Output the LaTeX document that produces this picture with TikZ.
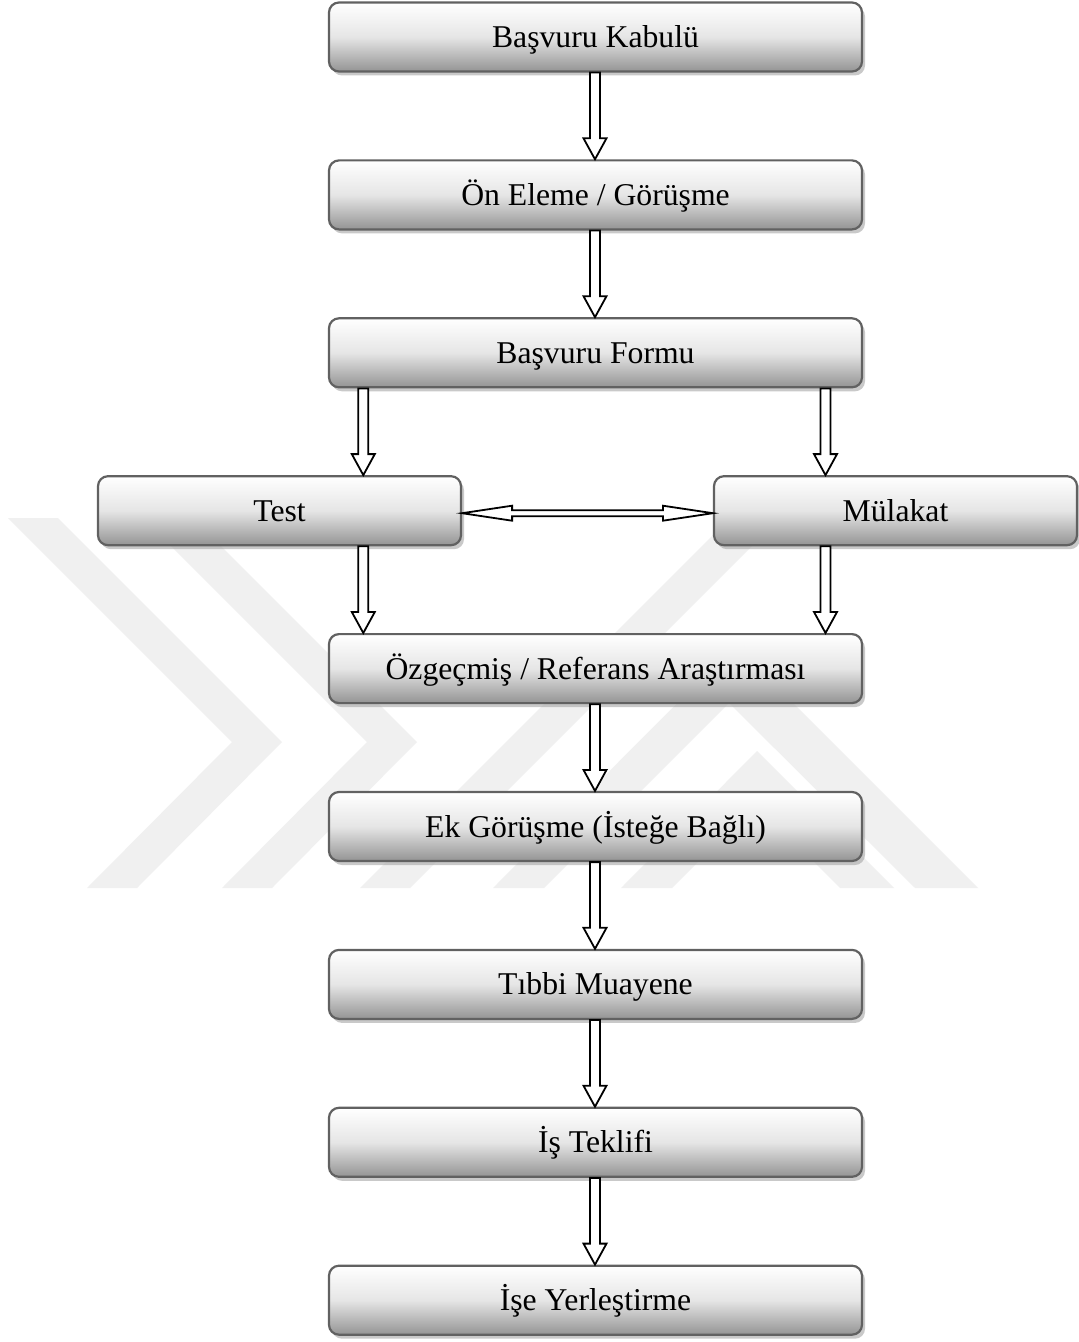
\documentclass[tikz,border=0pt]{standalone}
\usepackage{fontspec}
\setmainfont{Liberation Serif}
\usetikzlibrary{shadows,calc}

\tikzset{
  procbox/.style={draw=black!62, line width=2.2bp, rounded corners=10bp,
    top color=white, bottom color=black!42, middle color=black!10,
    minimum height=69bp, inner sep=0pt, text height=21bp, text depth=0pt,
    font=\fontsize{31.7bp}{38bp}\selectfont,
    drop shadow={shadow xshift=3bp, shadow yshift=-4bp, fill=black!35, opacity=0.6}},
  mainbox/.style={procbox, minimum width=533bp},
  sidebox/.style={procbox, minimum width=363bp},
  blockarrow/.style={draw=black, fill=white, line width=1.8bp, line join=miter},
  downarrow/.style={blockarrow, to path={
    let \p1=(\tikztostart), \p2=(\tikztotarget) in
    (\x1-5bp,\y1) -- (\x1-5bp,\y2+21bp) -- (\x1-11.5bp,\y2+21bp) -- (\x1,\y2)
    -- (\x1+11.5bp,\y2+21bp) -- (\x1+5bp,\y2+21bp) -- (\x1+5bp,\y1) -- cycle}},
  twoway/.style={blockarrow, to path={
    let \p1=(\tikztostart), \p2=(\tikztotarget) in
    (\x1,\y1) -- (\x1+50bp,\y1+7.5bp) -- (\x1+50bp,\y1+3bp) -- (\x2-50bp,\y1+3bp)
    -- (\x2-50bp,\y1+7.5bp) -- (\x2,\y1) -- (\x2-50bp,\y1-7.5bp) -- (\x2-50bp,\y1-3bp)
    -- (\x1+50bp,\y1-3bp) -- (\x1+50bp,\y1-7.5bp) -- cycle}},
  mark shape/.style={fill=black!6}
}

\begin{document}
\begin{tikzpicture}[x=1bp,y=1bp]
\useasboundingbox (0,0) rectangle (1078,-1342);
\fill[white] (0,0) rectangle (1078,-1342);

% faint emblem behind the chart
\fill[mark shape] (8,-518) -- (58,-518) -- (282,-742) -- (137,-888) -- (87,-888) -- (232,-742) -- cycle;
\fill[mark shape] (143,-518) -- (193,-518) -- (417,-742) -- (272,-888) -- (222,-888) -- (367,-742) -- cycle;
\fill[mark shape] (360,-888) -- (410,-888) -- (780,-518) -- (730,-518) -- cycle;
\fill[mark shape] (493,-888) -- (544,-888) -- (729,-703) -- (915,-888) -- (978,-888) -- (735,-645) -- cycle;
\fill[mark shape] (621,-888) -- (672,-888) -- (756,-804) -- (840,-888) -- (894,-888) -- (757,-751) -- cycle;

% process steps
\node[mainbox] (kabul)  at (595.5,-37)    {Başvuru Kabulü};
\node[mainbox] (eleme)  at (595.5,-194.9) {Ön Eleme / Görüşme};
\node[mainbox] (form)   at (595.5,-352.8) {Başvuru Formu};
\node[sidebox] (test)   at (279.5,-510.7) {Test};
\node[sidebox] (mulakat) at (895.5,-510.7) {Mülakat};
\node[mainbox] (ozgec)  at (595.5,-668.6) {Özgeçmiş / Referans Araştırması};
\node[mainbox] (ek)     at (595.5,-826.5) {Ek Görüşme (İsteğe Bağlı)};
\node[mainbox] (tibbi)  at (595.5,-984.4) {Tıbbi Muayene};
\node[mainbox] (teklif) at (595.5,-1142.3) {İş Teklifi};
\node[mainbox] (yerles) at (595.5,-1300.2) {İşe Yerleştirme};

% columns of the two side branches
\coordinate (lcol) at (363.3,0);
\coordinate (rcol) at (825.5,0);

% connectors
\path[downarrow] ([xshift=-0.5bp]kabul.south) to ([xshift=-0.5bp]eleme.north);
\path[downarrow] ([xshift=-0.5bp]eleme.south) to ([xshift=-0.5bp]form.north);
\path[downarrow] (form.south -| lcol) to (test.north -| lcol);
\path[downarrow] (form.south -| rcol) to (mulakat.north -| rcol);
\path[twoway] ([yshift=-2.5bp]test.east) to ([yshift=-2.5bp]mulakat.west);
\path[downarrow] (test.south -| lcol) to (ozgec.north -| lcol);
\path[downarrow] (mulakat.south -| rcol) to (ozgec.north -| rcol);
\path[downarrow] ([xshift=-0.5bp]ozgec.south) to ([xshift=-0.5bp]ek.north);
\path[downarrow] ([xshift=-0.5bp]ek.south) to ([xshift=-0.5bp]tibbi.north);
\path[downarrow] ([xshift=-0.5bp]tibbi.south) to ([xshift=-0.5bp]teklif.north);
\path[downarrow] ([xshift=-0.5bp]teklif.south) to ([xshift=-0.5bp]yerles.north);
\end{tikzpicture}
\end{document}
